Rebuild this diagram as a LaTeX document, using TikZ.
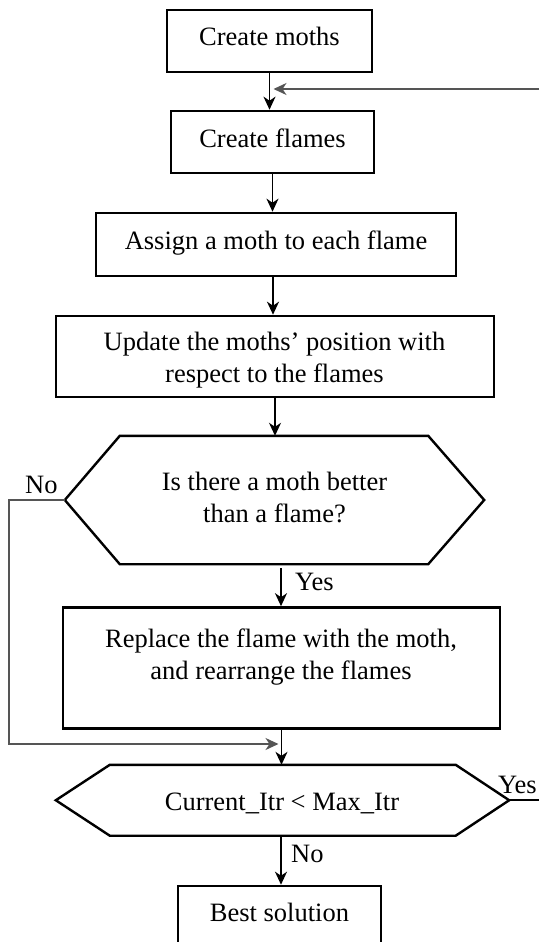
\documentclass[tikz,border=0pt]{standalone}
\usepackage{fontspec}
\setmainfont{Liberation Serif}
\usetikzlibrary{arrows.meta}
\newcommand\diagfont{\fontsize{26.5pt}{32.5pt}\selectfont}
\definecolor{linegray}{HTML}{555555}
\begin{document}
\begin{tikzpicture}[x=1pt,y=-1pt,
  box/.style={draw, line width=2.6pt, inner sep=0pt, font=\diagfont, text height=16pt, text depth=6pt},
  shapebox/.style={draw, line width=2.6pt, inner sep=0pt},
  hexn/.style={inner sep=0pt},
  hexline/.style={line width=2.4pt, line join=miter},
  txt/.style={font=\diagfont, align=center, inner sep=0pt},
  lbl/.style={font=\diagfont, inner sep=0pt},
  conn/.style={line width=1.6pt, -{Stealth[length=13pt,width=12pt,inset=4pt]}},
  plain/.style={line width=1.6pt}]
\clip (0,0) rectangle (539,942);

% boxes
\node[box, minimum width=205pt, minimum height=62pt] (moths) at (269.5,41) {Create moths};
\node[box, minimum width=203pt, minimum height=62pt] (flames) at (272.5,142) {Create flames};
\node[box, minimum width=360pt, minimum height=63pt] (assign) at (276,244.5) {Assign a moth to each flame};
\node[shapebox, minimum width=438pt, minimum height=81pt] (update) at (275,356.5) {};
\node[txt] (tupdate) at (274.5,360.1) {Update the moths’ position with\\respect to the flames};

% decision 1
\node[hexn, minimum width=419pt, minimum height=128pt] (hex1) at (274.5,500) {};
\draw[hexline] (hex1.west) -- ([xshift=55pt]hex1.north west) -- ([xshift=-56pt]hex1.north east)
  -- (hex1.east) -- ([xshift=-56pt]hex1.south east) -- ([xshift=55pt]hex1.south west) -- cycle;
\node[txt] (thex1) at (274.5,497.7) {Is there a moth better\\than a flame?};

\node[shapebox, minimum width=437pt, minimum height=121pt] (replace) at (281.5,668) {};
\node[txt] (treplace) at (281,657.1) {Replace the flame with the moth,\\and rearrange the flames};

% decision 2
\node[hexn, minimum width=453pt, minimum height=70.5pt] (hex2) at (282.5,800.25) {};
\draw[hexline] (hex2.west) -- ([xshift=54pt]hex2.north west) -- ([xshift=-53.5pt]hex2.north east)
  -- (hex2.east) -- ([xshift=-53.5pt]hex2.south east) -- ([xshift=54pt]hex2.south west) -- cycle;
\node[lbl, text height=16pt, text depth=6pt] (thex2) at (282,805.5) {Current\_Itr \textless{} Max\_Itr};

\node[box, minimum width=203pt, minimum height=60pt] (best) at (279.5,916) {Best solution};

% labels
\node[lbl, anchor=base west] (lno1) at (25,493) {No};
\node[lbl, anchor=base west] (lyes1) at (295,590) {Yes};
\node[lbl, anchor=base west] (lyes2) at (498,793) {Yes};
\node[lbl, anchor=base west] (lno2) at (291,862) {No};

% helper coordinates
\coordinate (fbR) at (539,89);
\coordinate (noX) at (9,0);
\coordinate (merge) at (281.5,744);
\coordinate (yesR) at (539,800.25);

% connectors
\draw[conn] (moths.south) -- (moths.south |- flames.north);
\draw[conn, linegray, line width=1.8pt] (fbR) -- ([xshift=4pt]moths.south |- fbR);
\draw[conn] (flames.south) -- (flames.south |- assign.north);
\draw[conn] ([xshift=-3pt]assign.south) -- ([xshift=-3pt]assign.south |- update.north);
\draw[conn] (update.south) -- (update.south |- hex1.north);
\draw[conn] ([xshift=6.5pt,yshift=-4pt]hex1.south) -- ([xshift=6.5pt]hex1.south |- replace.north);
\draw[conn, linegray] (hex1.west) -- (hex1.west -| noX) |- ([xshift=-3pt]merge);
\draw[conn] (replace.south) -- (replace.south |- hex2.north);
\draw[plain] (hex2.east) -- (yesR);
\draw[conn] ([xshift=-1.5pt]hex2.south) -- ([xshift=-1.5pt]hex2.south |- best.north);
\end{tikzpicture}
\end{document}
